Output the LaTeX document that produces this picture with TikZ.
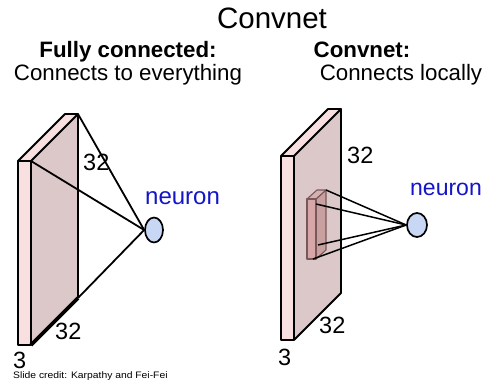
\documentclass[tikz,border=0pt]{standalone}
\usepackage{fontspec}
\setmainfont{Liberation Sans}
\usetikzlibrary{shapes.geometric}
\definecolor{slabfront}{RGB}{248,224,224}
\definecolor{slabside}{RGB}{220,200,200}
\definecolor{cubefront}{RGB}{214,166,168}
\definecolor{cubeside}{RGB}{200,160,160}
\definecolor{cubetop}{RGB}{212,176,176}
\definecolor{cubeline}{RGB}{120,88,88}
\definecolor{neuronfill}{RGB}{200,216,244}
\definecolor{neuronblue}{RGB}{20,20,200}
\tikzset{
  lbl/.style={inner sep=0pt, anchor=base west, font=\fontsize{23.5}{24}\selectfont},
  title/.style={inner sep=0pt, anchor=base, font=\fontsize{29.5}{30}\selectfont},
  head/.style={inner sep=0pt, anchor=base, font=\fontsize{22.3}{23}\selectfont\bfseries},
  sub/.style={inner sep=0pt, anchor=base, font=\fontsize{22.3}{23}\selectfont},
  neurontxt/.style={inner sep=0pt, anchor=base west, text=neuronblue, font=\fontsize{24}{24}\selectfont},
  neuron/.style={ellipse, draw=black, line width=1.7pt, fill=neuronfill, inner sep=0pt},
  slab/.style={draw=black, line width=1.9pt, line join=round},
  conn/.style={draw=black, line width=1.8pt},
  cube/.style={draw=cubeline, line width=1.1pt, line join=round},
}
\begin{document}
\begin{tikzpicture}[x=1pt,y=-1pt]
\useasboundingbox (0,0) rectangle (485,380);
% titles
\node[title] (t) at (272,28) {Convnet};
\node[head] (h1) at (128,57) {Fully connected:};
\node[sub] (s1) at (128,80) {Connects to everything};
\node[head] (h2) at (362,57) {Convnet:};
\node[sub] (s2) at (401,80) {Connects locally};
% left slab
\coordinate (LFtl) at (18,161);
\coordinate (LFtr) at (31,161);
\coordinate (LFbl) at (18,345);
\coordinate (LFbr) at (31,345);
\coordinate (LBtl) at (65,114);
\coordinate (LBtr) at (78,114);
\coordinate (LBbr) at (78,298);
\fill[slabside] (LFtr) -- (LBtr) -- (LBbr) -- (LFbr) -- cycle;
\fill[slabfront] (LFtl) -- (LFtr) -- (LBtr) -- (LBtl) -- cycle;
\fill[slabfront] (LFtl) rectangle (LFbr);
\draw[slab] (LFtl) rectangle (LFbr);
\draw[slab] (LFtl) -- (LBtl) -- (LBtr) -- (LFtr);
\draw[slab] (LBtr) -- (LBbr);
\node[neuron, minimum width=18pt, minimum height=25pt] (n1) at (154,230) {};
\draw[conn] (LBtr) -- (n1.west);
\draw[conn] (LFtr) -- (n1.west);
\draw[conn] (LBbr) -- (n1.west);
\draw[draw=black, line width=3.6pt] (LFbr) -- (LBbr);
\node[neurontxt] (nt1) at (145,204) {neuron};
\node[lbl] (a1) at (83,170) {32};
\node[lbl] (a2) at (55,339) {32};
\node[lbl] (a3) at (13,368) {3};
% right slab
\coordinate (RFtl) at (281,156);
\coordinate (RFtr) at (294,156);
\coordinate (RFbl) at (281,340);
\coordinate (RFbr) at (294,340);
\coordinate (RBtl) at (328,109);
\coordinate (RBtr) at (341,109);
\coordinate (RBbr) at (341,293);
\fill[slabside] (RFtr) -- (RBtr) -- (RBbr) -- (RFbr) -- cycle;
\fill[slabfront] (RFtl) -- (RFtr) -- (RBtr) -- (RBtl) -- cycle;
\fill[slabfront] (RFtl) rectangle (RFbr);
\draw[slab] (RFtl) rectangle (RFbr);
\draw[slab] (RFtl) -- (RBtl) -- (RBtr) -- (RFtr);
\draw[slab] (RBtr) -- (RBbr) -- (RFbr);
% cuboid
\coordinate (Ctl) at (307,199);
\coordinate (Ctr) at (316,199);
\coordinate (Cbl) at (307,259);
\coordinate (Cbr) at (316,259);
\coordinate (Cktl) at (317,190);
\coordinate (Cktr) at (326,190);
\coordinate (Ckbr) at (326,250);
\filldraw[cube, fill=cubeside] (Ctr) -- (Cktr) -- (Ckbr) -- (Cbr) -- cycle;
\filldraw[cube, fill=cubetop] (Ctl) -- (Ctr) -- (Cktr) -- (Cktl) -- cycle;
\filldraw[cube, fill=cubefront] (Ctl) rectangle (Cbr);
\node[neuron, minimum width=20pt, minimum height=24pt] (n2) at (417,225) {};
\coordinate (c1) at (316,204);
\coordinate (c2) at (318,245);
\coordinate (c3) at (313,259);
\draw[conn, line width=1.5pt] (Cktr) -- (n2.west);
\draw[conn, line width=1.5pt] (c1) -- (n2.west);
\draw[conn, line width=1.5pt] (c2) -- (n2.west);
\draw[conn, line width=1.5pt] (c3) -- (n2.west);
\node[neurontxt, font=\fontsize{23}{23}\selectfont] (nt2) at (410,195) {neuron};
\node[lbl] (b1) at (347,163) {32};
\node[lbl] (b2) at (319,333) {32};
\node[lbl] (b3) at (278,365) {3};
% credit
\node[inner sep=0pt, anchor=base west, xscale=1.1, font=\fontsize{9.4}{10}\selectfont] (cr) at (13,378) {Slide credit: Karpathy and Fei-Fei};
\end{tikzpicture}
\end{document}
